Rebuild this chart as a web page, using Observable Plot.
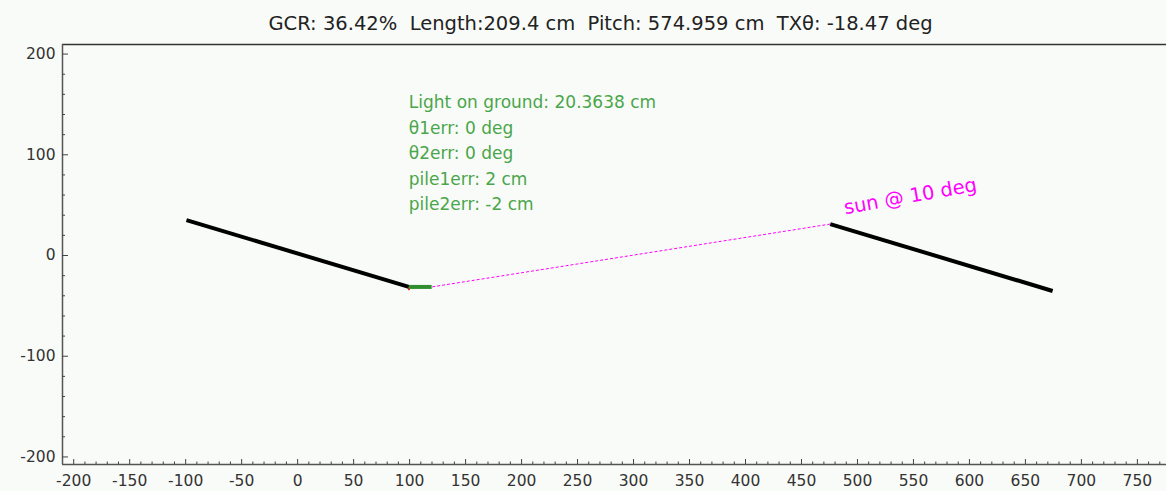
<!DOCTYPE html>
<html><head><meta charset="utf-8">
<script src="https://cdn.jsdelivr.net/npm/d3@7"></script>
<script src="https://cdn.jsdelivr.net/npm/@observablehq/plot@0.6"></script>
<style>
html,body{margin:0;padding:0;background:#f9fbf8;}
svg text{white-space:pre;}
</style>
</head><body><div id="chart"></div><script>
const titleText = "GCR: 36.42%  Length:209.4 cm  Pitch: 574.959 cm  TXθ: -18.47 deg";
const infoLines = ["Light on ground: 20.3638 cm", "θ1err: 0 deg", "θ2err: 0 deg", "pile1err: 2 cm", "pile2err: -2 cm"];
const sunLabel = "sun @ 10 deg";

// panels (cm)
const panelX1 = [-99.3, 475.7];
const panelY1 = [35.2, 31.2];
const panelX2 = [99.3, 674.3];
const panelY2 = [-31.2, -35.2];

// sun ray from top of panel 2 down to ground light point
const rayX = [475.7, 119.7];
const rayY = [31.2, -31.2];

// light on ground segment
const lightX = [99.3, 119.7];
const lightY = [-31.2, -31.2];

// small red pile mark
const redX = [98.6, 99.8];
const redY = [-31.6, -34.4];

const xMajor = [-200,-150,-100,-50,0,50,100,150,200,250,300,350,400,450,500,550,600,650,700,750];
const yMajor = [-200,-100,0,100,200];
const xMinor = d3.range(-200, 780, 10).filter(v => v % 50 !== 0);
const yMinor = d3.range(-200, 210, 20).filter(v => v % 100 !== 0);

const xDomain = [-210, 776];
const yDomain = [-207.5, 209.5];

const W = 1166, H = 491, mL = 62, mR = 0, mT = 44, mB = 27;
const plotW = W - mL - mR, plotH = H - mT - mB;
const font = "DejaVu Sans, sans-serif";

const panels = panelX1.map((d, i) => ({x1: d, y1: panelY1[i], x2: panelX2[i], y2: panelY2[i]}));
const ray = [{x1: rayX[0], y1: rayY[0], x2: rayX[1], y2: rayY[1]}];
const light = [{x1: lightX[0], y1: lightY[0], x2: lightX[1], y2: lightY[1]}];
const red = [{x1: redX[0], y1: redY[0], x2: redX[1], y2: redY[1]}];

const chart = Plot.plot({
  width: W, height: H,
  marginLeft: mL, marginRight: mR, marginTop: mT, marginBottom: mB,
  style: {background: "#f9fbf8", fontFamily: font, overflow: "visible"},
  x: {domain: xDomain, axis: null},
  y: {domain: yDomain, axis: null},
  marks: [
    Plot.ruleY([yDomain[1]], {stroke: "#333", strokeWidth: 1.5}),
    Plot.ruleX([xDomain[0]], {stroke: "#555", strokeWidth: 1.5}),
    Plot.ruleY([yDomain[0]], {stroke: "#555", strokeWidth: 1.5}),
    Plot.ruleX(xMajor, {insetTop: plotH - 5, stroke: "#444"}),
    Plot.ruleX(xMinor, {insetTop: plotH - 2.5, stroke: "#444"}),
    Plot.ruleY(yMajor, {insetRight: plotW - 6, stroke: "#444"}),
    Plot.ruleY(yMinor, {insetRight: plotW - 3, stroke: "#444"}),
    Plot.axisX({ticks: xMajor, tickSize: 0, tickPadding: 10, tickFormat: d => String(d), fontSize: 15.5, fill: "#333", fontFamily: font}),
    Plot.axisY({ticks: yMajor, tickSize: 0, tickPadding: 7, tickFormat: d => String(d), fontSize: 15.5, fill: "#333", fontFamily: font}),
    Plot.link(ray, {x1: "x1", y1: "y1", x2: "x2", y2: "y2", stroke: "#ff00ff", strokeWidth: 1, strokeDasharray: "3,2"}),
    Plot.link(panels, {x1: "x1", y1: "y1", x2: "x2", y2: "y2", stroke: "#000", strokeWidth: 4}),
    Plot.link(red, {x1: "x1", y1: "y1", x2: "x2", y2: "y2", stroke: "#e00000", strokeWidth: 1.5}),
    Plot.link(light, {x1: "x1", y1: "y1", x2: "x2", y2: "y2", stroke: "#2f8f2f", strokeWidth: 4}),
    Plot.text([infoLines.join("\n")], {x: lightX[0], y: 164, text: d => d, textAnchor: "start", lineAnchor: "top", lineHeight: 1.5, fontSize: 17, fill: "#4aa64a", fontFamily: font}),
    Plot.text([sunLabel], {x: 489, y: 41, text: d => d, textAnchor: "start", lineAnchor: "bottom", rotate: -10, fontSize: 19.5, fill: "#ff00ff", fontFamily: font}),
    Plot.text([titleText], {frameAnchor: "top", dy: -21, dx: -14, text: d => d, lineAnchor: "middle", fontSize: 19.5, fill: "#222", fontFamily: font})
  ]
});
document.getElementById("chart").appendChild(chart);
</script></body></html>
